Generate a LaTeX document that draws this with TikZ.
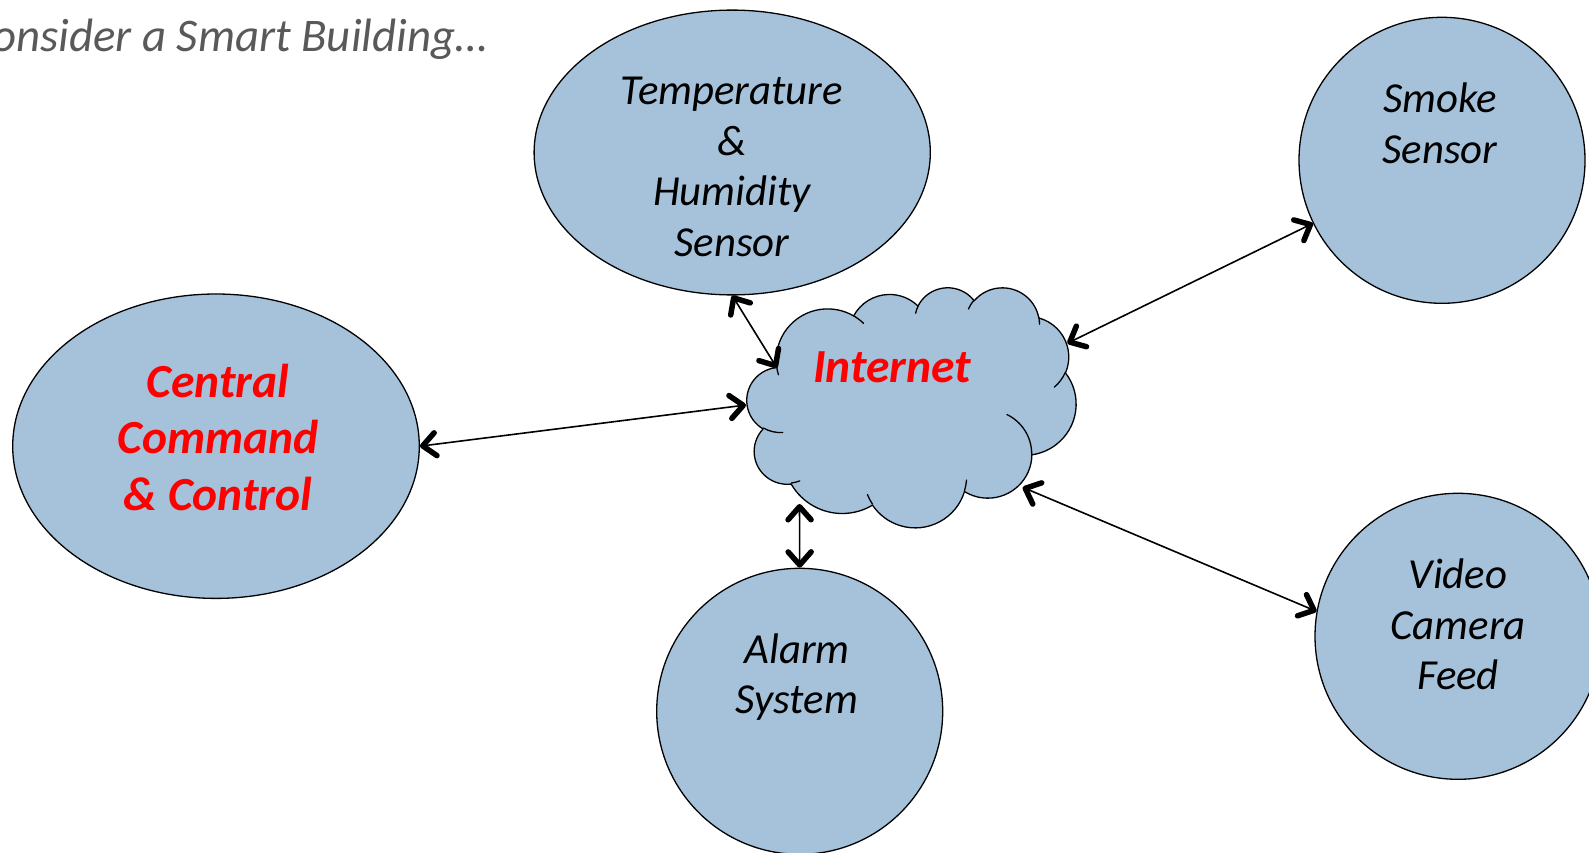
\documentclass[tikz,border=0pt]{standalone}
\usepackage{fontspec}
\setmainfont{Carlito}
\usetikzlibrary{arrows.meta,shapes.geometric}
\definecolor{bubble}{RGB}{165,194,218}
\definecolor{titlegray}{RGB}{89,89,89}
\definecolor{alertred}{RGB}{255,0,0}

\newcommand\cldpath{}
\newcommand\cldinner{}
\newcommand\cldcalc[4]{%
  \pgfmathsetmacro\cldA{atan2((#1)*sin(#3),(#2)*cos(#3))}%
  \pgfmathsetmacro\cldB{atan2((#1)*sin((#3)+(#4)),(#2)*cos((#3)+(#4)))}%
  \pgfmathsetmacro\cldD{mod(\cldB-(\cldA)+720,360)}%
}
\newcommand\cldadd[4]{\cldcalc{#1}{#2}{#3}{#4}%
  \xdef\cldpath{\cldpath arc[start angle=\cldA,delta angle=\cldD,x radius=#1,y radius=#2]}}
\newcommand\cldmark[6]{\cldcalc{#3}{#4}{#5}{#6}%
  \xdef\cldinner{\cldinner (#1,#2) arc[start angle=\cldA,delta angle=\cldD,x radius=#3,y radius=#4]}}

\cldadd{675.3}{919.0}{-190.4875}{123.7805}
\cldadd{533.3}{726.7}{-144.1024}{89.9452}
\cldadd{436.5}{594.5}{-145.8079}{99.7230}
\cldadd{485.7}{659.5}{-130.9861}{117.2417}
\cldadd{533.3}{727.3}{-78.7089}{109.0269}
\cldadd{677.5}{922.0}{-46.2673}{130.2690}
\cldadd{578.5}{786.7}{0.6250}{114.0333}
\cldadd{675.2}{921.5}{22.4516}{115.1726}
\cldadd{772.0}{1054.3}{66.2426}{75.7110}
\cldadd{436.0}{591.8}{-274.9421}{146.7356}
\cldadd{434.5}{594.5}{-246.8285}{152.5189}

\cldmark{469.3}{2617.7}{434.5}{594.5}{86.742}{26.430}
\cldmark{692.8}{3489.9}{436.0}{591.8}{73.610}{11.447}
\cldmark{1647.8}{3909.0}{675.2}{921.5}{137.624}{14.081}
\cldmark{2882.7}{3475.1}{675.2}{921.5}{6.453}{15.998}
\cldmark{3412.9}{2295.4}{578.5}{786.7}{-70.292}{70.917}
\cldmark{4179.8}{1535.4}{533.3}{727.3}{30.318}{27.752}
\cldmark{3832.4}{542.6}{485.7}{659.5}{-13.744}{14.859}
\cldmark{2907.8}{395.2}{485.7}{659.5}{-149.181}{18.195}
\cldmark{2214.1}{472.0}{436.5}{594.5}{-163.494}{17.686}
\cldmark{1400.0}{519.2}{675.3}{919.0}{-66.707}{12.319}
\cldmark{412.7}{1578.9}{675.3}{919.0}{157.654}{11.858}

\tikzset{
  bub/.style={draw=black, line width=1.3pt, fill=bubble, inner sep=0pt},
  ovalbub/.style={bub, ellipse},
  roundbub/.style={bub, circle},
  lbl/.style={align=center, font=\fontsize{42.8}{50.7}\selectfont\itshape, inner sep=0pt},
  redlbl/.style={align=center, font=\fontsize{47.5}{56.6}\selectfont\bfseries\itshape, text=alertred, inner sep=0pt},
  barb/.tip={Straight Barb[length=13pt,width=23pt,line width=5.5pt,round]},
  link/.style={line width=1.6pt, barb-barb},
  cloudline/.style={line width=1.3pt, line join=round}
}

\begin{document}
\begin{tikzpicture}[x=1pt,y=-1pt]
\useasboundingbox (0,0) rectangle (1589,853);
\clip (0,0) rectangle (1589,853);

\node[anchor=base east, inner sep=0pt, text=titlegray, font=\fontsize{46.8}{56}\selectfont\itshape] (title) at (488,51.7) {Consider a Smart Building…};

\node[ovalbub, minimum width=396.2pt, minimum height=284.8pt] (temp) at (732.2,152.5) {};
\node[roundbub, minimum size=286pt] (smoke) at (1442,160.3) {};
\node[ovalbub, minimum width=406.6pt, minimum height=304.4pt] (central) at (216,446.2) {};
\node[roundbub, minimum size=286pt] (alarm) at (799.7,711.3) {};
\node[roundbub, minimum size=286pt] (video) at (1458,636.3) {};

\begin{scope}[shift={(747,287)}, x=0.0761574pt, y=-0.0555556pt]
  \path[cloudline, draw=black, fill=bubble] (390,1437) \cldpath -- cycle;
  \draw[cloudline, line cap=round] \cldinner;
\end{scope}

\node[lbl] (templbl) at (732,167) {Temperature\\\&\\Humidity\\Sensor};
\node[lbl] (smokelbl) at (1440,123.5) {Smoke\\Sensor};
\node[redlbl] (centrallbl) at (218,437.5) {Central\\Command\\\& Control};
\node[redlbl] (netlbl) at (892,367) {Internet};
\node[lbl] (alarmlbl) at (797,677) {Alarm\\System};
\node[lbl] (videolbl) at (1458,624.5) {Video\\Camera\\Feed};

\coordinate (nTemp) at (777,368);
\coordinate (nSmoke) at (1067.3,343.3);
\coordinate (nCentral) at (746,405);
\coordinate (nAlarm) at (799.5,504);
\coordinate (nVideo) at (1022.7,487.3);

\draw[link] (temp.south) -- (nTemp);
\draw[link] (smoke) -- (nSmoke);
\draw[link] (central.east) -- (nCentral);
\draw[link] (alarm.north) -- (nAlarm);
\draw[link] (video.170) -- (nVideo);
\end{tikzpicture}
\end{document}
